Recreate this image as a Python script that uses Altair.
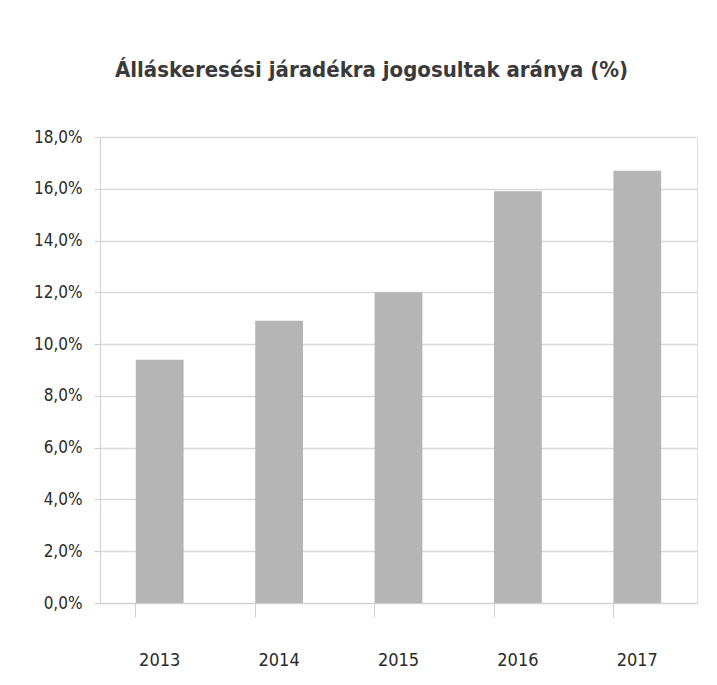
import altair as alt
import pandas as pd

years = ["2013", "2014", "2015", "2016", "2017"]
values = [9.4, 10.9, 12.0, 15.9, 16.7]

df = pd.DataFrame({"ev": years, "arany": values})

FONT = "DejaVu Sans Condensed, Liberation Sans, sans-serif"

chart = alt.Chart(df).mark_bar(color="#b5b5b5").encode(
    x=alt.X("ev:N", sort=years, title=None,
            scale=alt.Scale(paddingInner=0.6, paddingOuter=0.3),
            axis=alt.Axis(labelAngle=0, bandPosition=0, tickSize=14, labelPadding=34,
                          labelFont=FONT, labelFontSize=18,
                          labelColor="#2a2a2a", domainColor="#d0d0d0", tickColor="#d0d0d0",
                          grid=False)),
    y=alt.Y("arany:Q", title=None,
            scale=alt.Scale(domain=[0, 18], nice=False),
            axis=alt.Axis(values=[0, 2, 4, 6, 8, 10, 12, 14, 16, 18], tickSize=6, labelPadding=12,
                          labelExpr="replace(format(datum.value/100, '.1%'), '.', ',')",
                          labelFont=FONT, labelFontSize=17,
                          labelColor="#2a2a2a", domainColor="#d0d0d0", tickColor="#d0d0d0",
                          gridColor="#d9d9d9", gridWidth=1.5)),
).properties(
    width=597, height=466,
    title=alt.TitleParams("Álláskeresési járadékra jogosultak aránya (%)",
                          font=FONT, fontSize=22, fontWeight="bold",
                          color="#3a3a3a", anchor="middle", dx=-27, offset=46),
    autosize=alt.AutoSizeParams(type="none"),
    padding={"left": 92, "top": 129, "right": 12, "bottom": 70},
).configure_view(stroke=None).configure(background="white")

chart.save("out.html", embed_options={"renderer": "svg", "actions": False})
